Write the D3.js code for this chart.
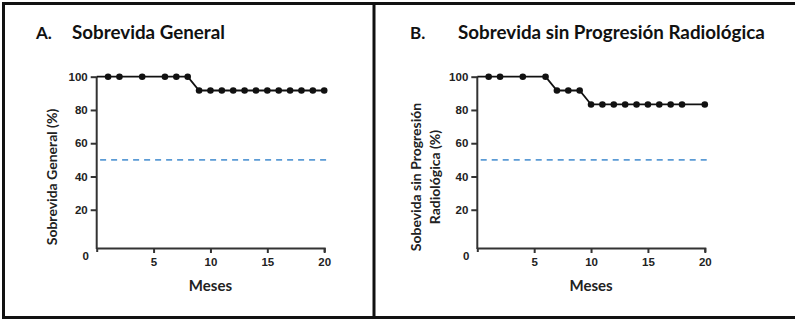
<!DOCTYPE html>
<html>
<head>
<meta charset="utf-8">
<script src="https://cdn.jsdelivr.net/npm/d3@7"></script>
<style>
  body { margin: 0; background: #fff; }
  svg { display: block; }
  .tick text { font-family: "Liberation Sans", Arial, sans-serif; font-weight: bold; font-size: 11.5px; fill: #222; }
</style>
</head>
<body>
<script>
// datos
var mesesA = [0, 1, 2, 4, 6, 7, 8, 9, 10, 11, 12, 13, 14, 15, 16, 17, 18, 19, 20];
var sobrevidaA = [100, 100, 100, 100, 100, 100, 100, 91.7, 91.7, 91.7, 91.7, 91.7, 91.7, 91.7, 91.7, 91.7, 91.7, 91.7, 91.7];

var mesesB = [0, 1, 2, 4, 6, 7, 8, 9, 10, 11, 12, 13, 14, 15, 16, 17, 18, 20];
var sobrevidaB = [100, 100, 100, 100, 100, 91.7, 91.7, 91.7, 83.3, 83.3, 83.3, 83.3, 83.3, 83.3, 83.3, 83.3, 83.3, 83.3];

var yTicks = [20, 40, 60, 80, 100];
var xTicks = [5, 10, 15, 20];
var mediana = 50;

var svg = d3.select("body").append("svg").attr("width", 795).attr("height", 320);

// marco
svg.append("path")
  .attr("d", "M795,3.5 H3.5 V317.5 H795")
  .attr("fill", "none").attr("stroke", "#111").attr("stroke-width", 3);
svg.append("line").attr("x1", 374).attr("x2", 374).attr("y1", 3).attr("y2", 318)
  .attr("stroke", "#111").attr("stroke-width", 3);

function panel(cfg) {
  var x = d3.scaleLinear().domain([0, 20]).range([cfg.x0, cfg.x0 + 227.5]);
  var y = d3.scaleLinear().domain([0, 100]).range([243, 76.7]);
  var ejeY = 248;
  var g = svg.append("g");

  // titulo
  g.append("text").attr("x", cfg.letraX).attr("y", 39).text(cfg.letra)
    .style("font-family", "Lato, sans-serif").style("font-weight", "bold").style("font-size", "17px").attr("fill", "#111");
  g.append("text").attr("x", cfg.tituloX).attr("y", 39).text(cfg.titulo)
    .style("font-family", "Lato, sans-serif").style("font-weight", "bold").style("font-size", "18.8px").attr("fill", "#111");

  // eje y
  var ay = g.append("g").attr("transform", "translate(" + x(0) + ",0)")
    .call(d3.axisLeft(y).tickValues(yTicks).tickSize(6).tickSizeOuter(0).tickPadding(3));
  ay.select(".domain").remove();
  ay.selectAll(".tick line").attr("stroke", "#333").attr("stroke-width", 2);
  g.append("line").attr("x1", x(0)).attr("x2", x(0)).attr("y1", y(100)).attr("y2", ejeY + 1)
    .attr("stroke", "#333").attr("stroke-width", 2);

  // eje x
  var ax = g.append("g").attr("transform", "translate(0," + ejeY + ")")
    .call(d3.axisBottom(x).tickValues(xTicks).tickSize(5).tickSizeOuter(4).tickPadding(5));
  ax.select(".domain").attr("stroke", "#333").attr("stroke-width", 2);
  ax.selectAll(".tick line").attr("stroke", "#333").attr("stroke-width", 2);

  g.append("text").attr("x", x(0) - 11).attr("y", ejeY + 12).attr("text-anchor", "middle").text("0")
    .style("font-family", "Liberation Sans, Arial, sans-serif").style("font-weight", "bold").style("font-size", "11.5px").attr("fill", "#222");

  g.append("text").attr("x", x(10)).attr("y", 291).attr("text-anchor", "middle").text("Meses")
    .style("font-family", "Lato, sans-serif").style("font-weight", "bold").style("font-size", "15px").attr("fill", "#222");

  // titulo eje y
  cfg.yTitulo.forEach(function (linea, i) {
    g.append("text")
      .attr("transform", "translate(" + cfg.yTituloX[i] + ",177) rotate(-90)")
      .attr("text-anchor", "middle").text(linea)
      .style("font-family", "Lato, sans-serif").style("font-weight", "bold").style("font-size", "14px").attr("fill", "#222");
  });

  // linea de mediana
  g.append("line").attr("x1", x(0.3)).attr("x2", x(20.5)).attr("y1", y(mediana)).attr("y2", y(mediana))
    .attr("stroke", "#5b9bd5").attr("stroke-width", 1.6).attr("stroke-dasharray", "6,5");

  // curva
  var pts = cfg.meses.map(function (m, i) { return [m, cfg.valores[i]]; });
  g.append("path").datum(pts)
    .attr("d", d3.line().x(function (d) { return x(d[0]); }).y(function (d) { return y(d[1]); }))
    .attr("fill", "none").attr("stroke", "#111").attr("stroke-width", 1.8);
  g.selectAll("circle").data(pts.slice(1)).enter().append("circle")
    .attr("cx", function (d) { return x(d[0]); })
    .attr("cy", function (d) { return y(d[1]); })
    .attr("r", 3.3).attr("fill", "#111");
}

panel({
  x0: 96.7, letra: "A.", letraX: 36, titulo: "Sobrevida General", tituloX: 72,
  yTitulo: ["Sobrevida General (%)"], yTituloX: [57],
  meses: mesesA, valores: sobrevidaA
});
panel({
  x0: 477.3, letra: "B.", letraX: 410, titulo: "Sobrevida sin Progresión Radiológica", tituloX: 458,
  yTitulo: ["Sobevida sin Progresión", "Radiológica (%)"], yTituloX: [421, 440],
  meses: mesesB, valores: sobrevidaB
});
</script>
</body>
</html>
